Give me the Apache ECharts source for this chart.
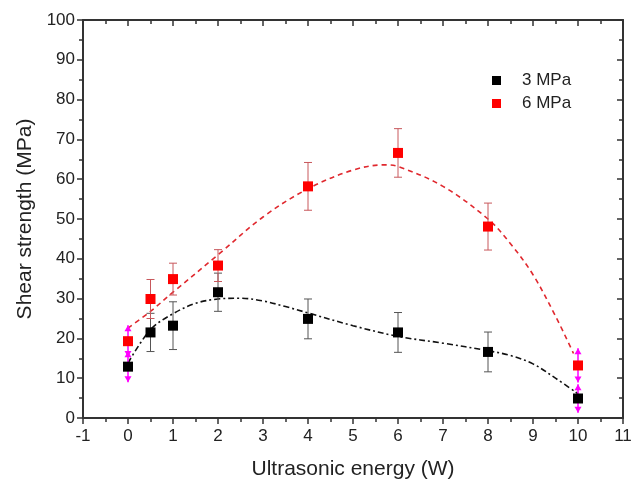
<!DOCTYPE html>
<html>
<head>
<meta charset="utf-8">
<script src="https://cdn.jsdelivr.net/npm/echarts@6/dist/echarts.min.js"></script>
<style>
  html, body { margin: 0; padding: 0; background: #fff; }
  #chart { width: 642px; height: 484px; }
</style>
</head>
<body>
<div id="chart"></div>
<script>
// measured points
var energy = [0, 0.5, 1, 2, 4, 6, 8, 10];
var s3 = [12.9, 21.5, 23.2, 31.6, 24.9, 21.5, 16.6, 4.9];
var e3 = [3.9, 4.8, 6.0, 4.8, 5.0, 5.0, 5.0, 3.6];
var s6 = [19.3, 29.9, 34.9, 38.3, 58.2, 66.6, 48.1, 13.2];
var e6 = [4.0, 4.9, 4.0, 4.0, 6.0, 6.1, 5.9, 4.3];

// fitted curves
var fit3X = [0, 0.5, 1, 1.5, 2, 2.5, 3, 3.5, 4, 5, 6, 7, 8, 8.5, 9, 9.5, 10];
var fit3Y = [13.8, 22.2, 26.2, 28.8, 29.9, 30.1, 29.4, 28.0, 26.4, 23.2, 20.5, 18.8, 16.9, 15.7, 13.6, 10.0, 6.1];
var fit6X = [0, 0.5, 1, 2, 3, 4, 5, 5.7, 6, 7, 8, 8.5, 9, 9.5, 9.9];
var fit6Y = [22.6, 26.8, 31.6, 41.0, 50.5, 57.6, 62.3, 63.6, 63.2, 58.2, 50.0, 43.8, 36.0, 25.6, 16.2];

var xTicks = [-1, 0, 1, 2, 3, 4, 5, 6, 7, 8, 9, 10, 11];

function zip(a, b, c) {
  return a.map(function (v, i) { return c ? [v, b[i], c[i]] : [v, b[i]]; });
}

function errRender(barColor) {
  return function (params, api) {
    var x = api.value(0), y = api.value(1), e = api.value(2);
    var top = api.coord([x, y + e]);
    var bot = api.coord([x, y - e]);
    var edge = (x === 0 || x === 10);
    var col = edge ? '#ff00ff' : barColor;
    var kids = [{
      type: 'line',
      shape: { x1: top[0], y1: top[1], x2: bot[0], y2: bot[1] },
      style: { stroke: col, lineWidth: edge ? 1.5 : 1 }
    }];
    if (edge) {
      kids.push({ type: 'polygon', shape: { points: [[top[0] - 3.5, top[1] + 6], [top[0] + 3.5, top[1] + 6], [top[0], top[1]]] }, style: { fill: col } });
      kids.push({ type: 'polygon', shape: { points: [[bot[0] - 3.5, bot[1] - 6], [bot[0] + 3.5, bot[1] - 6], [bot[0], bot[1]]] }, style: { fill: col } });
    } else {
      kids.push({ type: 'line', shape: { x1: top[0] - 4, y1: top[1], x2: top[0] + 4, y2: top[1] }, style: { stroke: col, lineWidth: 1 } });
      kids.push({ type: 'line', shape: { x1: bot[0] - 4, y1: bot[1], x2: bot[0] + 4, y2: bot[1] }, style: { stroke: col, lineWidth: 1 } });
    }
    return { type: 'group', children: kids };
  };
}

var axisCol = '#333';
var fam = 'Liberation Sans, Arial, sans-serif';
var lblFont = { color: '#222', fontSize: 17, fontFamily: fam };

var option = {
  backgroundColor: '#fff',
  animation: false,
  grid: { left: 83, right: 19, top: 20, bottom: 66, outerBoundsMode: 'none' },
  legend: {
    orient: 'vertical',
    left: 487, top: 67,
    itemWidth: 9, itemHeight: 9, itemGap: 6,
    textStyle: { color: '#222', fontSize: 17, fontFamily: fam, padding: [0, 0, 0, 16] },
    data: [{ name: '3 MPa', icon: 'rect' }, { name: '6 MPa', icon: 'rect' }]
  },
  xAxis: [{
    type: 'value', min: xTicks[0], max: xTicks[xTicks.length - 1], interval: 1,
    name: 'Ultrasonic energy (W)', nameLocation: 'middle', nameGap: 41,
    nameTextStyle: { color: '#222', fontSize: 21, fontFamily: fam },
    axisLine: { onZero: false, lineStyle: { color: axisCol, width: 2 } },
    axisTick: { length: 6, lineStyle: { color: axisCol, width: 1.5 } },
    minorTick: { show: true, splitNumber: 2, length: 4, lineStyle: { color: axisCol, width: 1.5 } },
    axisLabel: Object.assign({ margin: 10 }, lblFont),
    splitLine: { show: false }
  }, {
    type: 'value', position: 'top', min: xTicks[0], max: xTicks[xTicks.length - 1], interval: 1,
    axisLine: { onZero: false, lineStyle: { color: axisCol, width: 2 } },
    axisTick: { inside: true, length: 6, lineStyle: { color: axisCol, width: 1.5 } },
    minorTick: { show: true, splitNumber: 2, length: 4, lineStyle: { color: axisCol, width: 1.5 } },
    axisLabel: { show: false },
    splitLine: { show: false }
  }],
  yAxis: [{
    type: 'value', min: 0, max: 100, interval: 10,
    name: 'Shear strength (MPa)', nameLocation: 'middle', nameGap: 46,
    nameTextStyle: { color: '#222', fontSize: 21, fontFamily: fam },
    axisLine: { show: true, onZero: false, lineStyle: { color: axisCol, width: 2 } },
    axisTick: { show: true, length: 6, lineStyle: { color: axisCol, width: 1.5 } },
    minorTick: { show: true, splitNumber: 2, length: 4, lineStyle: { color: axisCol, width: 1.5 } },
    axisLabel: Object.assign({ margin: 8 }, lblFont),
    splitLine: { show: false }
  }, {
    type: 'value', position: 'right', min: 0, max: 100, interval: 10,
    axisLine: { show: true, onZero: false, lineStyle: { color: axisCol, width: 2 } },
    axisTick: { show: true, inside: true, length: 6, lineStyle: { color: axisCol, width: 1.5 } },
    minorTick: { show: true, splitNumber: 2, length: 4, lineStyle: { color: axisCol, width: 1.5 } },
    axisLabel: { show: false },
    splitLine: { show: false }
  }],
  series: [
    {
      name: 'fit3', type: 'line', smooth: 0.35, symbol: 'none', z: 2,
      data: zip(fit3X, fit3Y),
      lineStyle: { color: '#111', width: 1.6, type: [6, 3, 2, 3] }
    },
    {
      name: 'fit6', type: 'line', smooth: 0.35, symbol: 'none', z: 2,
      data: zip(fit6X, fit6Y),
      lineStyle: { color: '#e0282e', width: 1.6, type: [5, 4] }
    },
    {
      name: 'err3', type: 'custom', z: 3, renderItem: errRender('#555'),
      data: zip(energy, s3, e3)
    },
    {
      name: 'err6', type: 'custom', z: 3, renderItem: errRender('#c8585c'),
      data: zip(energy, s6, e6)
    },
    {
      name: '3 MPa', type: 'scatter', symbol: 'rect', symbolSize: 10, z: 4,
      itemStyle: { color: '#000', opacity: 1 },
      data: zip(energy, s3)
    },
    {
      name: '6 MPa', type: 'scatter', symbol: 'rect', symbolSize: 10, z: 4,
      itemStyle: { color: '#ff0000', opacity: 1 },
      data: zip(energy, s6)
    }
  ]
};

var chart = echarts.init(document.getElementById('chart'));
chart.setOption(option);
</script>
</body>
</html>
